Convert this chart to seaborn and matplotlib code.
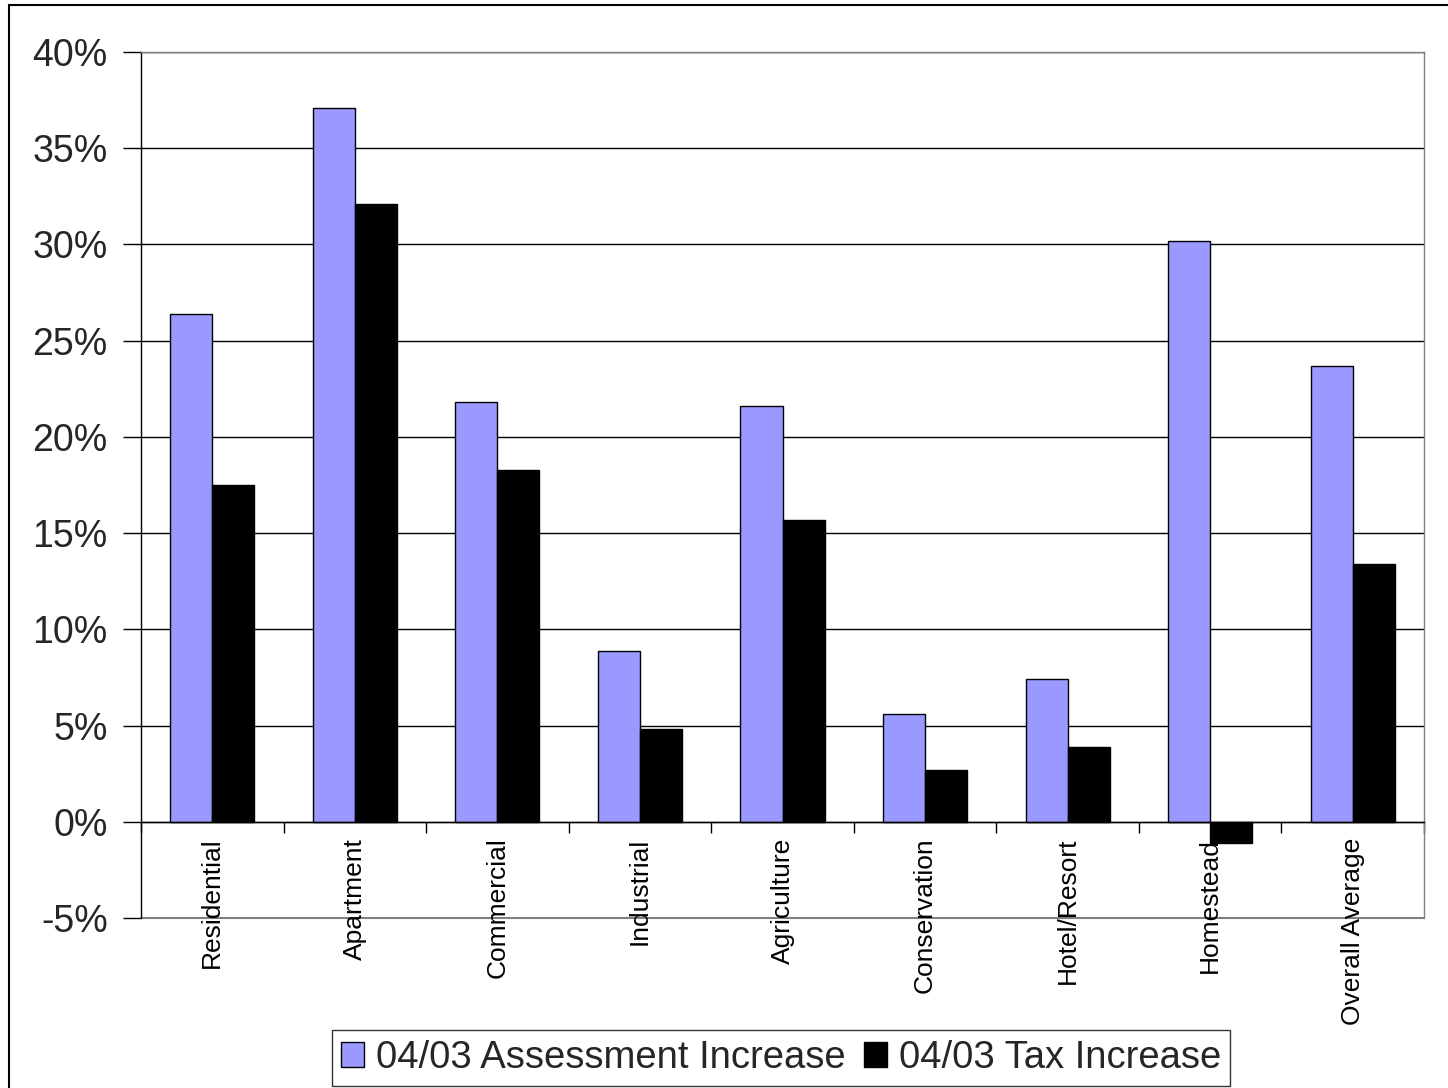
import matplotlib
matplotlib.use("Agg")
import matplotlib.pyplot as plt
import seaborn as sns
import pandas as pd
from matplotlib.patches import Rectangle
from matplotlib.ticker import FuncFormatter, FixedLocator

categories = ["Residential", "Apartment", "Commercial", "Industrial", "Agriculture",
              "Conservation", "Hotel/Resort", "Homestead", "Overall Average"]
assessment = [26.4, 37.1, 21.8, 8.9, 21.6, 5.6, 7.4, 30.2, 23.7]
tax = [17.5, 32.1, 18.3, 4.8, 15.7, 2.7, 3.9, -1.1, 13.4]
series_names = ["04/03 Assessment Increase", "04/03 Tax Increase"]
colors = ["#9999FF", "#000000"]

df = pd.DataFrame({
    "category": categories * 2,
    "value": assessment + tax,
    "series": [series_names[0]] * len(categories) + [series_names[1]] * len(categories),
})

sns.set_theme(style="white")
plt.rcParams["font.family"] = ["Liberation Sans", "DejaVu Sans"]

fig = plt.figure(figsize=(14.48, 10.88), dpi=100)
ax = fig.add_axes([141 / 1448, 1 - 918 / 1088, (1424 - 141) / 1448, (918 - 52) / 1088])

sns.barplot(data=df, x="category", y="value", hue="series", order=categories,
            hue_order=series_names, palette=colors, width=0.59, ax=ax,
            edgecolor="black", linewidth=1, saturation=1)

ax.set_ylim(-5, 40)
ax.set_xlim(-0.5, len(categories) - 0.5)
ax.set_yticks(range(-5, 41, 5))
ax.yaxis.set_major_formatter(FuncFormatter(lambda v, p: f"{int(v)}%"))
ax.tick_params(axis="y", direction="out", length=13, width=1, color="black",
               labelsize=27, pad=11, left=True)
ax.grid(axis="y", color="black", linewidth=1)
ax.set_axisbelow(True)
ax.set_xlabel("")
ax.set_ylabel("")

# spines
ax.spines["left"].set_color("black")
ax.spines["left"].set_linewidth(1)
for s in ["top", "right"]:
    ax.spines[s].set_color("#808080")
    ax.spines[s].set_linewidth(1)
ax.spines["bottom"].set_position(("data", 0))
ax.spines["bottom"].set_color("black")
ax.spines["bottom"].set_linewidth(1)
ax.axhline(-5, color="#808080", linewidth=1.5, clip_on=False)

ax.xaxis.set_major_locator(FixedLocator([i - 0.5 for i in range(len(categories) + 1)]))
ax.tick_params(axis="x", direction="out", length=8, width=1, color="black",
               labelbottom=False, bottom=True)

for i, name in enumerate(categories):
    ax.annotate(name, xy=(i, 0), xytext=(0, -11.5), textcoords="offset points",
                rotation=90, ha="center", va="top", fontsize=19, color="black")

handles, labels = ax.get_legend_handles_labels()
if ax.get_legend() is not None:
    ax.get_legend().remove()
leg = fig.legend(handles, labels, loc="center", bbox_to_anchor=(781 / 1448, 1 - 1058 / 1088),
                 ncol=2, fontsize=27.5, frameon=True, fancybox=False, handlelength=0.6,
                 handleheight=0.6, handletextpad=0.3, columnspacing=0.5, borderpad=0.25,
                 borderaxespad=0)
leg.get_frame().set_edgecolor("black")
leg.get_frame().set_linewidth(1)

fig.patches.append(Rectangle((9 / 1448, -0.5), 2, 0.5 + 1 - 5 / 1088, transform=fig.transFigure,
                             fill=False, edgecolor="black", linewidth=1.5))

fig.savefig("out.png", dpi=100)
